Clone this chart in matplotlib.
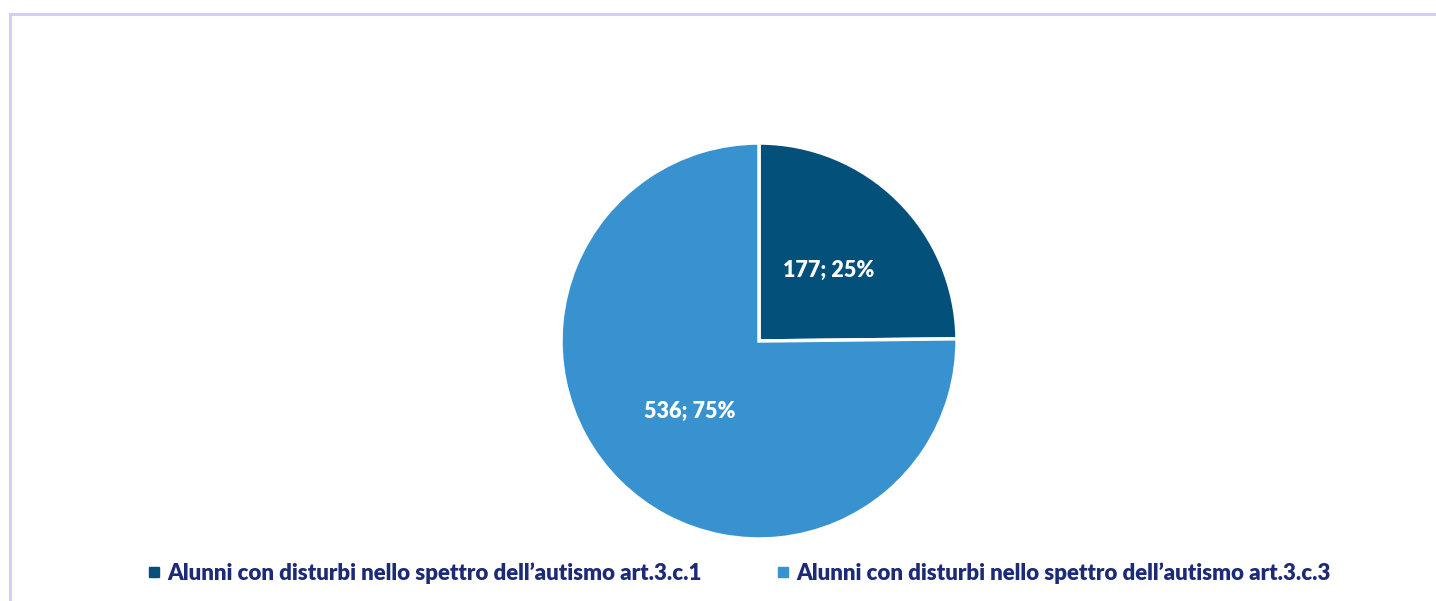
import matplotlib
matplotlib.use("Agg")
import matplotlib.pyplot as plt
from matplotlib.patches import Rectangle
from matplotlib.lines import Line2D

categories = ["Alunni con disturbi nello spettro dell\u2019autismo art.3.c.1",
              "Alunni con disturbi nello spettro dell\u2019autismo art.3.c.3"]
values = [177, 536]
colors = ["#03517a", "#3892cf"]

W, H = 1436, 601
fig = plt.figure(figsize=(W / 100, H / 100), dpi=100)
fig.patch.set_facecolor("white")

# frame border
fig.add_artist(Rectangle((10 / W, -0.1), 1.5, (1 - 14 / H) + 0.1, transform=fig.transFigure,
                         fill=False, edgecolor="#d4cef0", linewidth=2.2))

cx, cy, r = 759, 341, 198
ax = fig.add_axes([(cx - r) / W, (H - cy - r) / H, 2 * r / W, 2 * r / H])
total = sum(values)

def fmt(p):
    v = round(p * total / 100)
    return f"{v}; {p:.0f}%"

wedges, texts, autotexts = ax.pie(values, colors=colors, startangle=90, counterclock=False,
                                  autopct=fmt, pctdistance=0.5,
                                  wedgeprops=dict(edgecolor="white", linewidth=2.5),
                                  textprops=dict(color="white", fontsize=15.5, fontweight="heavy",
                                                 family="Lato"))
ax.set_xlim(-1, 1)
ax.set_ylim(-1, 1)
ax.set_aspect("equal")
ax.axis("off")

handles = [Line2D([], [], marker="s", linestyle="none", markersize=7, color=c) for c in colors]
leg = fig.legend(handles, categories, loc="center", ncol=2, frameon=False,
                 bbox_to_anchor=(740 / W, 1 - 573 / H),
                 prop=dict(family="Lato", weight="heavy", size=16),
                 handlelength=0.5, handletextpad=0.35, columnspacing=3.4)
for t in leg.get_texts():
    t.set_color("#1c2a78")

fig.savefig("out.png", dpi=100, facecolor="white")
